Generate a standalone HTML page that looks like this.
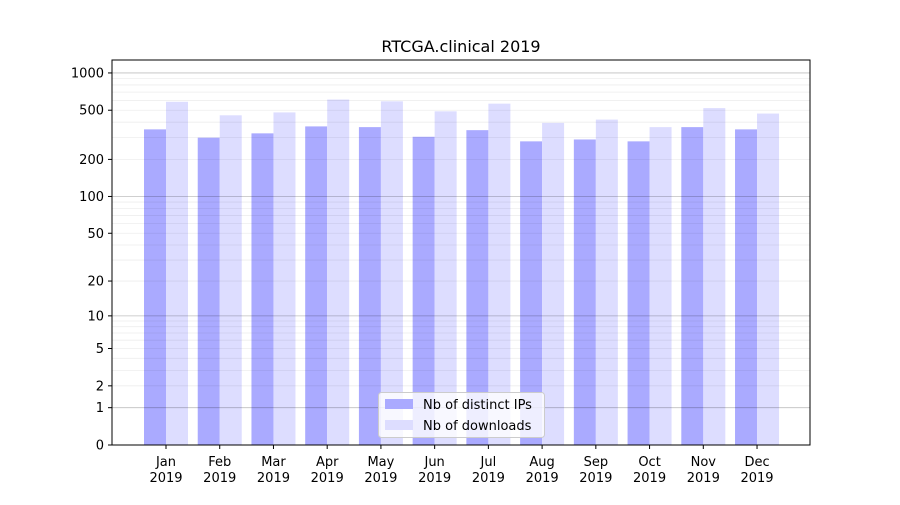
<!DOCTYPE html>
<html><head><meta charset="utf-8">
<style>
body{margin:0;background:#fff;font-family:"Liberation Sans","DejaVu Sans",sans-serif;}
svg text{font-family:"DejaVu Sans","Liberation Sans",sans-serif;}
</style></head>
<body>
<svg id="chart" width="900" height="500" xmlns="http://www.w3.org/2000/svg">
<rect width="900" height="500" fill="#fff"/>
<text x="461" y="52" text-anchor="middle" font-size="16">RTCGA.clinical 2019</text>
<g id="bars"></g>
<g id="grid"></g>
<rect x="112" y="60" width="698" height="385" fill="none" stroke="#000" stroke-width="1"/>
<g id="axes"></g>
<g>
<rect x="378.5" y="392.5" width="166" height="45" rx="3" fill="#fff" fill-opacity="0.8" stroke="#ccc"/>
<rect x="385" y="399" width="28" height="10" fill="#aaaaff"/>
<text x="423" y="409" font-size="13">Nb of distinct IPs</text>
<rect x="385" y="420" width="28" height="10" fill="#ddddff"/>
<text x="423" y="430" font-size="13">Nb of downloads</text>
</g>
</svg>
<script>
const months = ["Jan","Feb","Mar","Apr","May","Jun","Jul","Aug","Sep","Oct","Nov","Dec"];
const distinctIPs = [350,300,325,370,365,305,345,280,290,280,365,350];
const downloads = [585,455,480,610,590,490,565,395,420,365,520,470];
const yTicks = [0,1,2,5,10,20,50,100,200,500,1000];
const yTickLabels = ["0","1","2","5","10","20","50","100","200","500","1000"];

const NS="http://www.w3.org/2000/svg";
function y(v){return 445-124*Math.log10(1+v);}
function xc(i){return 166+i*53.73;}
function mk(tag,attrs,parent){const e=document.createElementNS(NS,tag);for(const k in attrs)e.setAttribute(k,attrs[k]);parent.appendChild(e);return e;}
const grid=document.getElementById('grid'),bars=document.getElementById('bars'),axes=document.getElementById('axes');
[1,10,100,1000].forEach(d=>{for(let m=2;m<=9;m++){const v=d*m;const yy=y(v);if(yy<60)continue;
 const l=mk('line',{x1:112,x2:810,y1:yy,y2:yy,stroke:'#000','stroke-opacity':0.07,'stroke-width':0.8},grid);
 
 }});
[1,10,100,1000].forEach(v=>{const yy=y(v);
 const l=mk('line',{x1:112,x2:810,y1:yy,y2:yy,stroke:'#000','stroke-opacity':0.25,'stroke-width':0.8},grid);
 
 });
months.forEach((m,i)=>{
 const c=xc(i);
 const b1=mk('rect',{x:c-22,y:y(distinctIPs[i]),width:22,height:445-y(distinctIPs[i]),fill:'#aaaaff'},bars);
 
 
 const b2=mk('rect',{x:c,y:y(downloads[i]),width:22,height:445-y(downloads[i]),fill:'#ddddff'},bars);
 
 
 mk('line',{x1:c,x2:c,y1:445,y2:449,stroke:'#000'},axes);
 const t=mk('text',{x:c,y:466,'text-anchor':'middle','font-size':13},axes);t.textContent=m;
 
 
 const t2=mk('text',{x:c,y:482,'text-anchor':'middle','font-size':13},axes);t2.textContent='2019';
 
 
});
yTicks.forEach((v,i)=>{const yy=y(v);
 mk('line',{x1:108,x2:112,y1:yy,y2:yy,stroke:'#000'},axes);
 const t=mk('text',{x:104,y:yy+4.5,'text-anchor':'end','font-size':13},axes);t.textContent=yTickLabels[i];
 
 });
</script>
</body></html>
